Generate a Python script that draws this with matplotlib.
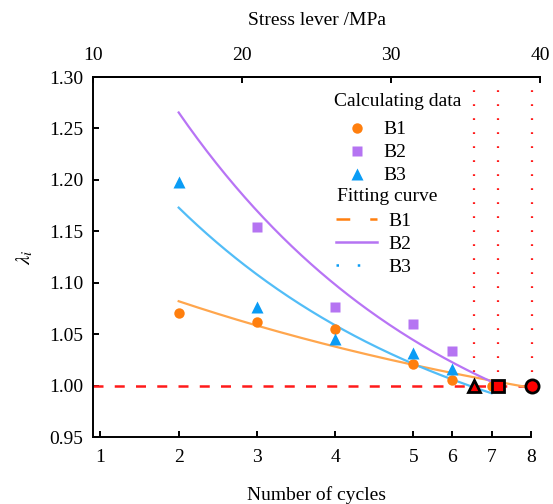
import numpy as np
import matplotlib
matplotlib.use("Agg")
import matplotlib.pyplot as plt
from matplotlib.lines import Line2D

plt.rcParams["font.family"] = ["Liberation Serif", "DejaVu Serif"]
plt.rcParams["mathtext.fontset"] = "stix"
plt.rcParams["font.size"] = 14

# Stress level of each loading cycle (MPa); cycles 1-5 in steps of 5.25, then 2.625
cycles = [1, 2, 3, 4, 5, 6, 7, 8]
cycle_stress = [10.5, 15.75, 21.0, 26.25, 31.5, 34.125, 36.75, 39.375]

# Calculated lambda_i values per specimen
b1_cycles = [2, 3, 4, 5, 6, 7]
b1_lambda = [1.071, 1.062, 1.055, 1.021, 1.005, 1.000]
b2_cycles = [3, 4, 5, 6]
b2_lambda = [1.154, 1.0765, 1.060, 1.034]
b3_cycles = [2, 3, 4, 5, 6]
b3_lambda = [1.198, 1.076, 1.0457, 1.032, 1.0164]

# Exponential fits lambda = c + a*exp(-b*(S - S0)), S0 = stress of cycle 2
fit_s0 = 15.75
b1_fit = (0.906, 0.176, 0.0275)
b2_fit = (0.881, 0.3845, 0.0544)
b3_fit = (0.902, 0.271, 0.0522)
b1_range = (15.75, 39.375)
b2_range = (15.75, 36.75)
b3_range = (15.75, 36.75)

# Stress where each fitted curve reaches lambda = 1 (B3, B2, B1)
limit_stress = [35.6, 37.15, 39.45]
limit_markers = ["^", "s", "o"]

stress_ticks = [10, 20, 30, 40]
lambda_ticks = [0.95, 1.00, 1.05, 1.10, 1.15, 1.20, 1.25, 1.30]

c_orange = "#ff7f0e"
c_purple = "#b574f2"
c_blue = "#0a9cf5"
c_orange_l = "#ffa64d"
c_purple_l = "#b874f5"
c_blue_l = "#52bdf7"


def stress_of(cyc):
    return np.interp(cyc, cycles, cycle_stress)


def fit_curve(params, rng):
    c, a, b = params
    s = np.linspace(rng[0], rng[1], 200)
    return s, c + a * np.exp(-b * (s - fit_s0))


fig = plt.figure(figsize=(5.53, 5.04), dpi=100)
ax = fig.add_axes([93 / 553, 1 - 437 / 504, 447 / 553, 360 / 504])
ax.set_xlim(10, 40)
ax.set_ylim(0.95, 1.30)

# reference level lambda = 1
ax.plot([10, cycle_stress[-1]], [1.0, 1.0], color="#ff1a1a", lw=1.8,
        linestyle=(0, (4, 4.5)), zorder=2)
for s in limit_stress:
    ax.plot([s, s], [1.0, 1.298], color="#ff1a1a", lw=1.6,
            linestyle=(0, (0.8, 5.5)), zorder=2)

# fitted curves
for params, rng, col in [(b1_fit, b1_range, c_orange_l),
                         (b2_fit, b2_range, c_purple_l),
                         (b3_fit, b3_range, c_blue_l)]:
    s, y = fit_curve(params, rng)
    ax.plot(s, y, color=col, lw=1.6, zorder=3)

# calculated points
ax.plot(stress_of(b1_cycles), b1_lambda, "o", color=c_orange, ms=7.5, mec="none", zorder=4)
ax.plot(stress_of(b2_cycles), b2_lambda, "s", color=c_purple, ms=7, mec="none", zorder=4)
ax.plot(stress_of(b3_cycles), b3_lambda, "^", color=c_blue, ms=8, mec="none", zorder=4)

# points where lambda reaches 1
for s, m in zip(limit_stress, limit_markers):
    ax.plot([s], [1.0], m, color="#ff0000", mec="black", mew=2.0,
            ms=9 if m != "o" else 9.5, zorder=5, clip_on=False)

# axes styling
ax.spines["right"].set_visible(False)
for sp in ["left", "bottom", "top"]:
    ax.spines[sp].set_linewidth(1.4)
ax.spines["bottom"].set_bounds(10, cycle_stress[-1])

ax.set_xticks(cycle_stress)
ax.set_xticklabels([str(c) for c in cycles])
ax.set_yticks(lambda_ticks)
ax.set_yticklabels([f"{v:.2f}" for v in lambda_ticks])
ax.tick_params(axis="both", direction="in", length=4, width=1.4, pad=7)
ax.tick_params(axis="x", pad=9)

top = ax.secondary_xaxis("top")
top.set_xticks(stress_ticks)
top.set_xticklabels([str(v) for v in stress_ticks])
top.tick_params(direction="in", length=4, width=1.4, pad=9)
top.spines["top"].set_linewidth(1.4)
top.set_xlabel("Stress lever /MPa", labelpad=16)

ax.set_xlabel("Number of cycles", labelpad=14)
ax.set_ylabel(r"$\lambda_i$", labelpad=10, fontsize=15)

# legends
ax.text(0.539, 0.931, "Calculating data", transform=ax.transAxes,
        ha="left", va="center")
h_pts = [Line2D([], [], ls="none", marker="o", color=c_orange, ms=7.5, mec="none"),
         Line2D([], [], ls="none", marker="s", color=c_purple, ms=7, mec="none"),
         Line2D([], [], ls="none", marker="^", color=c_blue, ms=8, mec="none")]
leg1 = ax.legend(h_pts, ["B1", "B2", "B3"],
                 loc="center left", bbox_to_anchor=(0.537, 0.790), frameon=False,
                 handlelength=2.5, handletextpad=0.1,
                 labelspacing=0.28, borderpad=0, borderaxespad=0, fontsize=14)
ax.add_artist(leg1)

ax.text(0.545, 0.6675, "Fitting curve", transform=ax.transAxes,
        ha="left", va="center")
h_fit = [Line2D([], [], color=c_orange, lw=1.8, ls=(0, (5.5, 8))),
         Line2D([], [], color=c_purple, lw=1.8),
         Line2D([], [], color=c_blue, lw=1.8, ls=(0, (1, 7.5)))]
ax.legend(h_fit, ["B1", "B2", "B3"],
          loc="center left", bbox_to_anchor=(0.544, 0.535), frameon=False,
          handlelength=2.1, handletextpad=0.6,
          labelspacing=0.28, borderpad=0, borderaxespad=0, fontsize=14)

fig.savefig("out.png", dpi=100)
